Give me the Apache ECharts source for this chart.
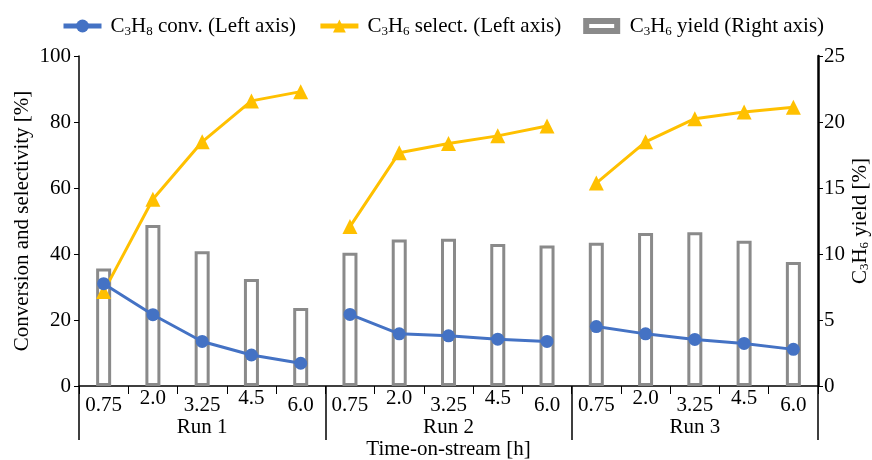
<!DOCTYPE html>
<html>
<head>
<meta charset="utf-8">
<script src="https://cdn.jsdelivr.net/npm/echarts@6/dist/echarts.min.js"></script>
<style>
  html, body { margin: 0; padding: 0; background: #fff; }
  #chart { width: 872px; height: 460px; }
</style>
</head>
<body>
<div id="chart"></div>
<script>
const runs = ['Run 1', 'Run 2', 'Run 3'];
const times = ['0.75', '2.0', '3.25', '4.5', '6.0'];
// C3H8 conversion [%], one list per run
const convRun1 = [31.0, 21.6, 13.5, 9.4, 6.9];
const convRun2 = [21.7, 15.8, 15.2, 14.2, 13.5];
const convRun3 = [18.0, 15.8, 14.1, 12.9, 11.1];
// C3H6 selectivity [%]
const selRun1 = [28.6, 56.6, 74.0, 86.4, 89.2];
const selRun2 = [48.3, 70.7, 73.5, 75.8, 78.8];
const selRun3 = [61.5, 74.0, 81.0, 83.0, 84.5];
// C3H6 yield [%] (right axis)
const yieldRun1 = [8.9, 12.2, 10.2, 8.1, 5.9];
const yieldRun2 = [10.1, 11.1, 11.15, 10.75, 10.65];
const yieldRun3 = [10.85, 11.6, 11.65, 11.0, 9.4];

const leftTicks = { min: 0, max: 100, interval: 20 };
const rightTicks = { min: 0, max: 25, interval: 5 };

const convName = 'C{sub|3}H{sub|8} conv. (Left axis)';
const selName = 'C{sub|3}H{sub|6} select. (Left axis)';
const yieldName = 'C{sub|3}H{sub|6} yield (Right axis)';

const font = 'Liberation Serif';
const blue = '#4472C4';
const yellow = '#FFC000';
const gray = '#8A8A8A';

const categories = [];
runs.forEach(() => times.forEach(t => categories.push(t)));

// put one run's values on the 15 slots, '-' elsewhere so lines break between runs
function placeRun(values, runIndex) {
  return categories.map((c, i) => {
    const r = Math.floor(i / times.length);
    return r === runIndex ? values[i % times.length] : '-';
  });
}

const yieldAll = [].concat(yieldRun1, yieldRun2, yieldRun3);
const convRuns = [convRun1, convRun2, convRun3];
const selRuns = [selRun1, selRun2, selRun3];

const subRich = {
  sub: { fontFamily: font, fontSize: 13, lineHeight: 14, verticalAlign: 'bottom', color: '#000' }
};

const series = [
  {
    name: yieldName,
    type: 'bar',
    xAxisIndex: 0,
    yAxisIndex: 1,
    barWidth: 15,
    data: yieldAll,
    itemStyle: { color: '#fff', borderColor: gray, borderWidth: 3 },
    z: 1
  }
];
selRuns.forEach((vals, r) => {
  series.push({
    name: selName,
    type: 'line',
    xAxisIndex: 0,
    yAxisIndex: 0,
    data: placeRun(vals, r),
    symbol: 'triangle',
    symbolSize: 15,
    lineStyle: { color: yellow, width: 3 },
    itemStyle: { color: yellow },
    connectNulls: false,
    z: 3
  });
});
convRuns.forEach((vals, r) => {
  series.push({
    name: convName,
    type: 'line',
    xAxisIndex: 0,
    yAxisIndex: 0,
    data: placeRun(vals, r),
    symbol: 'circle',
    symbolSize: 13,
    lineStyle: { color: blue, width: 3 },
    itemStyle: { color: blue },
    connectNulls: false,
    z: 4
  });
});

const chart = echarts.init(document.getElementById('chart'));
const option = {
  backgroundColor: '#ffffff',
  animation: false,
  textStyle: { fontFamily: font },
  legend: {
    data: [
      { name: convName, lineStyle: { width: 5 } },
      { name: selName, lineStyle: { width: 5 } },
      {
        name: yieldName,
        icon: 'path://M0,0H37V16H0Z M6,6V10H31V6Z',
        itemStyle: { color: gray, borderWidth: 0 }
      }
    ],
    top: 9,
    left: 56,
    itemGap: 22,
    itemWidth: 38,
    itemHeight: 16,
    textStyle: {
      fontFamily: font,
      fontSize: 21,
      color: '#000',
      lineHeight: 24,
      padding: [0, 0, 0, 4],
      rich: subRich
    }
  },
  grid: {
    left: 79,
    right: 54,
    top: 56,
    bottom: 74,
    outerBoundsMode: 'none',
    containLabel: false
  },
  xAxis: [
    {
      type: 'category',
      data: categories,
      position: 'bottom',
      axisLine: { show: true, lineStyle: { color: '#000', width: 1.5 } },
      axisTick: { show: true, length: 8, lineStyle: { color: '#000', width: 1 } },
      axisLabel: {
        interval: 0,
        margin: 5,
        color: '#000',
        fontFamily: font,
        fontSize: 21,
        formatter: (value, index) => (index % times.length) % 2 === 1 ? '{hi|' + value + '}' : '{lo|' + value + '}',
        rich: {
          hi: { fontFamily: font, fontSize: 21, lineHeight: 22, color: '#000', padding: [0, 0, 7, 0] },
          lo: { fontFamily: font, fontSize: 21, lineHeight: 22, color: '#000', padding: [7, 0, 0, 0] }
        }
      },
      splitLine: { show: false }
    },
    {
      type: 'category',
      data: runs,
      position: 'bottom',
      gridIndex: 0,
      axisLine: { show: false },
      axisTick: { show: true, length: 54, lineStyle: { color: '#000', width: 1.5 } },
      axisLabel: { margin: 30, color: '#000', fontFamily: font, fontSize: 21, lineHeight: 22 },
      name: 'Time-on-stream [h]',
      nameLocation: 'middle',
      nameGap: 52,
      nameMoveOverlap: false,
      nameTextStyle: { color: '#000', fontFamily: font, fontSize: 21, lineHeight: 22 }
    }
  ],
  yAxis: [
    {
      type: 'value',
      min: leftTicks.min,
      max: leftTicks.max,
      interval: leftTicks.interval,
      position: 'left',
      name: 'Conversion and selectivity [%]',
      nameLocation: 'middle',
      nameRotate: 90,
      nameGap: 46,
      nameMoveOverlap: false,
      nameTextStyle: { color: '#000', fontFamily: font, fontSize: 21 },
      axisLine: { show: true, lineStyle: { color: '#000', width: 1.5 } },
      axisTick: { show: true, length: 5, lineStyle: { color: '#000' } },
      axisLabel: { color: '#000', fontFamily: font, fontSize: 21, margin: 8 },
      splitLine: { show: false }
    },
    {
      type: 'value',
      min: rightTicks.min,
      max: rightTicks.max,
      interval: rightTicks.interval,
      position: 'right',
      name: 'C{sub|3}H{sub|6} yield [%]',
      nameLocation: 'middle',
      nameRotate: 90,
      nameGap: 32,
      nameMoveOverlap: false,
      nameTextStyle: { color: '#000', fontFamily: font, fontSize: 21, rich: subRich },
      axisLine: { show: true, lineStyle: { color: '#000', width: 2.5 } },
      axisTick: { show: true, length: 5, lineStyle: { color: '#000' } },
      axisLabel: { color: '#000', fontFamily: font, fontSize: 21, margin: 6 },
      splitLine: { show: false }
    }
  ],
  series: series
};
option && chart.setOption(option);
</script>
</body>
</html>
